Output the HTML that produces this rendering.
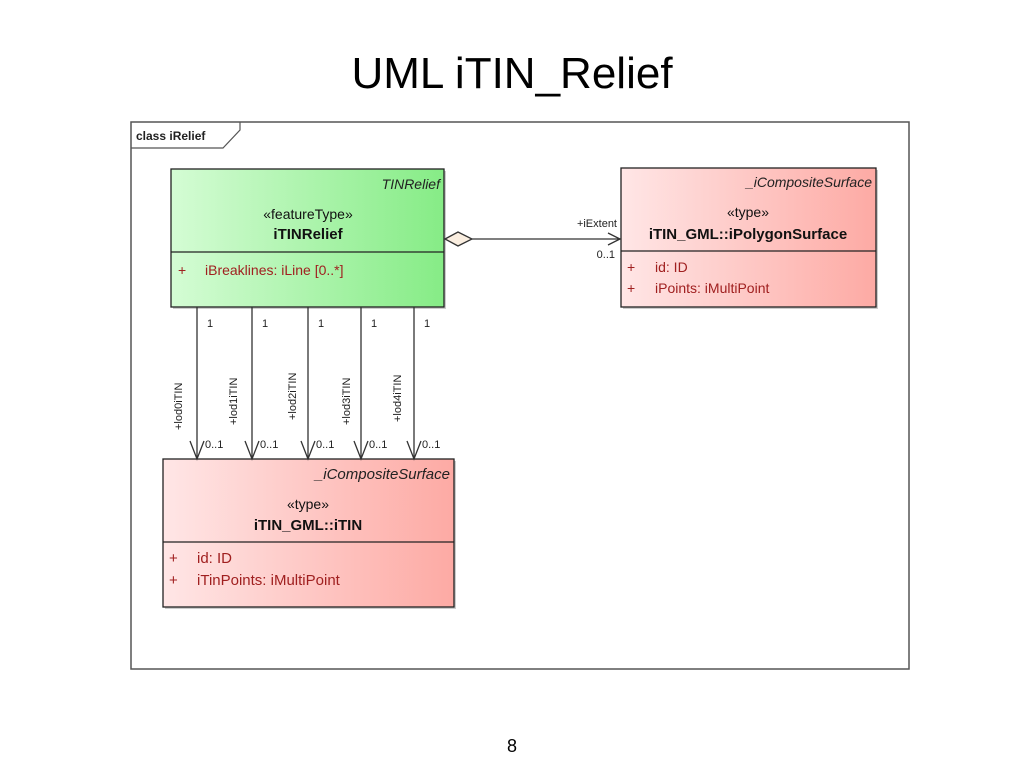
<!DOCTYPE html>
<html><head><meta charset="utf-8"><style>
html,body{margin:0;padding:0;background:#fff;}
svg{display:block;}
text{font-family:"Liberation Sans",Arial,sans-serif;}
</style></head><body>
<svg width="1024" height="768" viewBox="0 0 1024 768" xmlns="http://www.w3.org/2000/svg">
<defs>
<linearGradient id="g" x1="0" x2="1" y1="0" y2="0"><stop offset="0" stop-color="#d4fcd4"/><stop offset="1" stop-color="#86ec86"/></linearGradient>
<linearGradient id="r" x1="0" x2="1" y1="0" y2="0"><stop offset="0" stop-color="#ffe6e6"/><stop offset="1" stop-color="#fdaaa4"/></linearGradient>
</defs>
<text x="512" y="88" font-size="44" text-anchor="middle" fill="#000">UML iTIN_Relief</text>
<text x="512" y="752" font-size="18" text-anchor="middle">8</text>
<rect x="131" y="122" width="778" height="547" fill="#fff" stroke="#555" stroke-width="1.5"/>
<path d="M131 148 H223 L240 130 V122" fill="none" stroke="#555" stroke-width="1.2"/>
<text x="136" y="140" font-size="12" font-weight="bold" fill="#222">class iRelief</text>
<rect x="173" y="171" width="273" height="138" fill="#ccc"/>
<rect x="171" y="169" width="273" height="138" fill="url(#g)" stroke="#222" stroke-width="1.3"/>
<line x1="171" y1="252" x2="444" y2="252" stroke="#222" stroke-width="1.3"/>
<text x="440" y="189" font-size="14" font-style="italic" text-anchor="end" fill="#222">TINRelief</text>
<text x="308" y="219" font-size="14" text-anchor="middle" fill="#111">«featureType»</text>
<text x="308" y="239" font-size="15" font-weight="bold" text-anchor="middle" fill="#111">iTINRelief</text>
<text x="178" y="275" font-size="14" fill="#a02020">+</text>
<text x="205" y="275" font-size="14" fill="#a02020">iBreaklines: iLine [0..*]</text>
<rect x="623" y="170" width="255" height="139" fill="#ccc"/>
<rect x="621" y="168" width="255" height="139" fill="url(#r)" stroke="#222" stroke-width="1.3"/>
<line x1="621" y1="251" x2="876" y2="251" stroke="#222" stroke-width="1.3"/>
<text x="872" y="187" font-size="14" font-style="italic" text-anchor="end" fill="#222">_iCompositeSurface</text>
<text x="748" y="217" font-size="14" text-anchor="middle" fill="#111">«type»</text>
<text x="748" y="239" font-size="15" font-weight="bold" text-anchor="middle" fill="#111">iTIN_GML::iPolygonSurface</text>
<text x="627" y="272" font-size="14" fill="#a02020">+</text>
<text x="655" y="272" font-size="14" fill="#a02020">id: ID</text>
<text x="627" y="293" font-size="14" fill="#a02020">+</text>
<text x="655" y="293" font-size="14" fill="#a02020">iPoints: iMultiPoint</text>
<polygon points="445,239 458,232 472,239 458,246" fill="#faeee0" stroke="#333" stroke-width="1.3"/>
<line x1="472" y1="239" x2="621" y2="239" stroke="#333" stroke-width="1.3"/>
<polyline points="608,233 620,239 608,245" fill="none" stroke="#333" stroke-width="1.3"/>
<text x="617" y="227" font-size="11" text-anchor="end" fill="#222">+iExtent</text>
<text x="615" y="258" font-size="11" text-anchor="end" fill="#222">0..1</text>
<rect x="165" y="461" width="291" height="148" fill="#ccc"/>
<rect x="163" y="459" width="291" height="148" fill="url(#r)" stroke="#222" stroke-width="1.3"/>
<line x1="163" y1="542" x2="454" y2="542" stroke="#222" stroke-width="1.3"/>
<text x="450" y="479" font-size="15" font-style="italic" text-anchor="end" fill="#222">_iCompositeSurface</text>
<text x="308" y="509" font-size="14" text-anchor="middle" fill="#111">«type»</text>
<text x="308" y="530" font-size="15" font-weight="bold" text-anchor="middle" fill="#111">iTIN_GML::iTIN</text>
<text x="169" y="563" font-size="15" fill="#a02020">+</text>
<text x="197" y="563" font-size="15" fill="#a02020">id: ID</text>
<text x="169" y="585" font-size="15" fill="#a02020">+</text>
<text x="197" y="585" font-size="15" fill="#a02020">iTinPoints: iMultiPoint</text>
<g stroke="#333" fill="none" stroke-width="1.3">
<line x1="197" y1="307" x2="197" y2="459"/><polyline points="190,441 197,459 204,441"/>
<line x1="252" y1="307" x2="252" y2="459"/><polyline points="245,441 252,459 259,441"/>
<line x1="308" y1="307" x2="308" y2="459"/><polyline points="301,441 308,459 315,441"/>
<line x1="361" y1="307" x2="361" y2="459"/><polyline points="354,441 361,459 368,441"/>
<line x1="414" y1="307" x2="414" y2="459"/><polyline points="407,441 414,459 421,441"/>
</g>
<g font-size="11" fill="#222">
<text x="207" y="327">1</text><text x="262" y="327">1</text><text x="318" y="327">1</text><text x="371" y="327">1</text><text x="424" y="327">1</text>
<text x="205" y="448">0..1</text><text x="260" y="448">0..1</text><text x="316" y="448">0..1</text><text x="369" y="448">0..1</text><text x="422" y="448">0..1</text>
<text transform="translate(182,430) rotate(-90)">+lod0iTIN</text>
<text transform="translate(237,425) rotate(-90)">+lod1iTIN</text>
<text transform="translate(296,420) rotate(-90)">+lod2iTIN</text>
<text transform="translate(350,425) rotate(-90)">+lod3iTIN</text>
<text transform="translate(401,422) rotate(-90)">+lod4iTIN</text>
</g>
</svg>
</body></html>
